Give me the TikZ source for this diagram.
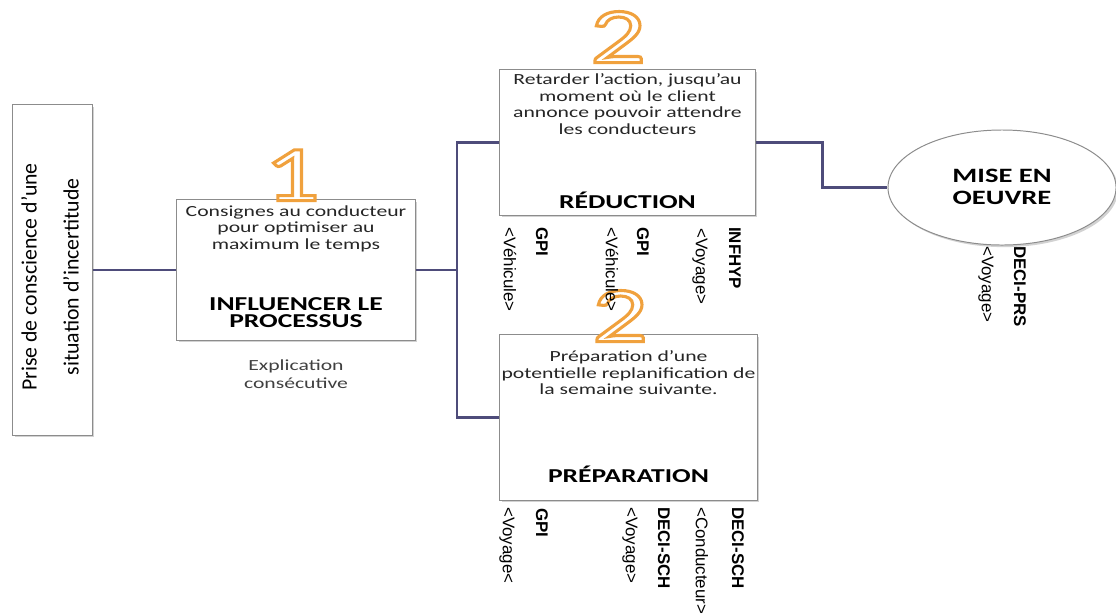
\documentclass[tikz,border=0pt]{standalone}
\usepackage{fontspec}
\newfontfamily\boxfont{Carlito}[FakeStretch=1.4]
\newfontfamily\sidefont{Carlito}
\newfontfamily\tagfont{Liberation Sans}
\usetikzlibrary{shapes.geometric, shadows, positioning}
\definecolor{wirecol}{RGB}{78,76,122}
\definecolor{edgecol}{RGB}{140,140,140}
\definecolor{numcol}{RGB}{240,160,60}
% outlined digit: white fill, orange stroke
\newcommand\outlinedigit[1]{\textcolor{white}{\special{pdf:literal direct 2 Tr 2.2 w 0.94 0.63 0.24 RG}#1\special{pdf:literal direct 0 Tr}}}

\begin{document}
\begin{tikzpicture}[x=0.025cm, y=-0.025cm,
  procbox/.style={draw=edgecol, fill=white, line width=0.7pt, drop shadow={shadow xshift=1.5pt, shadow yshift=-1.5pt, opacity=0.35}},
  desc/.style={font=\boxfont\fontsize{11}{12}\selectfont, text=black!85, align=center, inner sep=0pt},
  boxtitle/.style={font=\boxfont\bfseries\fontsize{14}{12}\selectfont, align=center, inner sep=0pt},
  tagtext/.style={font=\tagfont\fontsize{12}{12}\selectfont, rotate=-90, anchor=west, inner sep=0pt},
  codetag/.style={tagtext, font=\tagfont\bfseries\fontsize{12}{12}\selectfont},
  bignum/.style={font=\boxfont\fontsize{56}{56}\selectfont, inner sep=0pt, text height=35pt, text depth=0pt},
  wire/.style={draw=wirecol, line width=1.8pt}
]
\useasboundingbox[fill=white] (0,0) rectangle (1116,614);

% Awareness
\node[procbox, minimum width=1.975cm, minimum height=8.25cm] (prise) at (52.5,270) {};
\node[rotate=90, align=center, inner sep=0pt, font=\sidefont\fontsize{15.5}{30}\selectfont] (prisetxt) at (50,277)
  {Prise de conscience d’une\\situation d’incertitude};

% Influence the process
\node[procbox, minimum width=5.95cm, minimum height=3.5cm] (influ) at (296,270) {};
\node[desc, anchor=north] (infludesc) at (296,205) {Consignes au conducteur\\pour optimiser au\\maximum le temps};
\node[boxtitle, anchor=south] (influtitle) at (296,328) {INFLUENCER LE\\PROCESSUS};
\node[desc, text=black!75, font=\boxfont\fontsize{11}{13}\selectfont] (explic) at (296,374) {Explication\\consécutive};
\node[bignum] (num1) at (292,176) {\outlinedigit{1}};

% Reduction
\node[procbox, minimum width=6.375cm, minimum height=3.625cm] (reduc) at (627.5,142.5) {};
\node[desc, anchor=north] (reducdesc) at (627.5,73) {Retarder l’action, jusqu’au\\moment où le client\\annonce pouvoir attendre\\les conducteurs};
\node[boxtitle, anchor=south] (reductitle) at (627.5,209) {RÉDUCTION};
\node[bignum] (num2a) at (618,38) {\outlinedigit{2}};

% Preparation
\node[procbox, minimum width=6.425cm, minimum height=4.125cm] (prepa) at (628.5,417.5) {};
\node[desc, anchor=north] (prepadesc) at (628.5,350) {Préparation d’une\\potentielle replanification de\\la semaine suivante.};
\node[boxtitle, anchor=south] (prepatitle) at (628.5,483) {PRÉPARATION};
\node[bignum] (num2b) at (620,317) {\outlinedigit{2}};

% Implementation
\node[procbox, ellipse, minimum width=5.7cm, minimum height=2.875cm, inner sep=0pt] (mise) at (1002,187.5) {};
\node[boxtitle, font=\boxfont\bfseries\fontsize{14.5}{15.5}\selectfont] (misetxt) at (1002,187) {MISE EN\\OEUVRE};

% Connectors
\coordinate (junc) at (457,270);
\draw[wire] (prise.east) -- (influ.west);
\draw[wire] (influ.east) -- (junc);
\draw[wire] (reduc.west) -| (junc) |- (prepa.west);
\draw[wire] (reduc.east) -- ++(67,0) |- (mise.west);

% Tags under reduction
\node[tagtext] (tr1) at (510,227) {<Véhicule>};
\node[codetag] (tr2) at (542,227) {GPI};
\node[tagtext] (tr3) at (612,227) {<Véhicule>};
\node[codetag] (tr4) at (643,227) {GPI};
\node[tagtext] (tr5) at (700,228) {<Voyage>};
\node[codetag] (tr6) at (735,227) {INFHYP};

% Tags under preparation
\node[tagtext] (tp1) at (507,507) {<Voyage<};
\node[codetag] (tp2) at (542,508) {GPI};
\node[tagtext] (tp3) at (630,507) {<Voyage>};
\node[codetag] (tp4) at (664,507) {DECI-SCH};
\node[tagtext] (tp5) at (702,507) {<Conducteur>};
\node[codetag] (tp6) at (738,507) {DECI-SCH};

% Tags under implementation
\node[tagtext] (tm1) at (986,246) {<Voyage>};
\node[codetag] (tm2) at (1020,246) {DECI-PRS};
\end{tikzpicture}
\end{document}
